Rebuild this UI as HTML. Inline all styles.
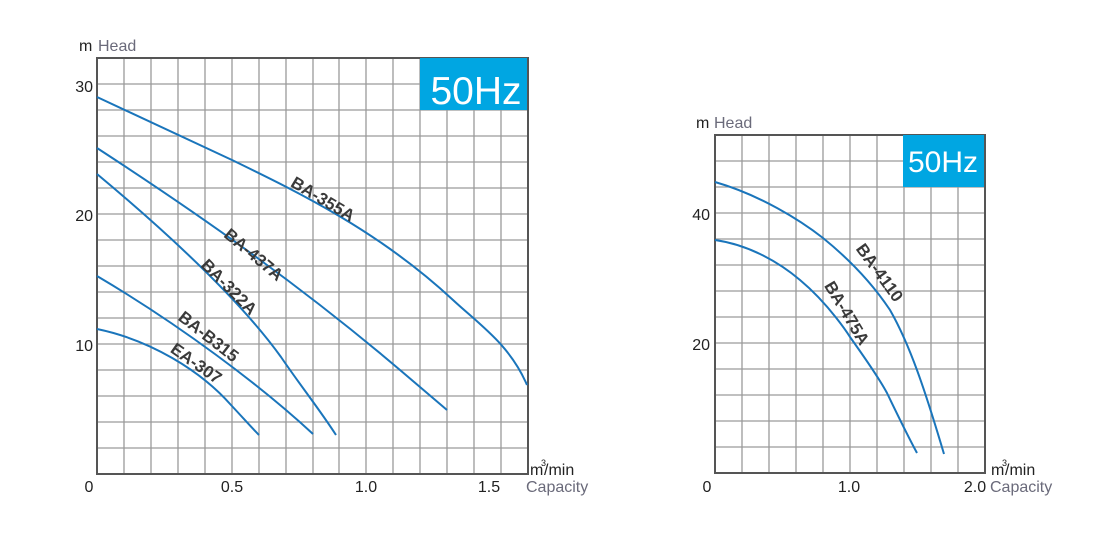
<!DOCTYPE html>
<html><head><meta charset="utf-8"><style>
html,body{margin:0;padding:0;background:#fff;}
svg{display:block;font-family:"Liberation Sans",sans-serif;}
</style></head><body>
<svg width="1096" height="541" viewBox="0 0 1096 541" xmlns="http://www.w3.org/2000/svg">
<g stroke="#9a9a9a" stroke-width="1.3" fill="none">
<path d="M124 58V474M151 58V474M178 58V474M205 58V474M232 58V474M259 58V474M286 58V474M313 58V474M339 58V474M366 58V474M393 58V474M420 58V474M447 58V474M474 58V474M501 58V474"/>
<path d="M97 84H528M97 110H528M97 136H528M97 162H528M97 188H528M97 214H528M97 240H528M97 266H528M97 292H528M97 318H528M97 344H528M97 370H528M97 396H528M97 422H528M97 448H528"/>
<path d="M742 135V473M769 135V473M796 135V473M823 135V473M850 135V473M877 135V473M904 135V473M931 135V473M958 135V473"/>
<path d="M715 161H985M715 187H985M715 213H985M715 239H985M715 265H985M715 291H985M715 317H985M715 343H985M715 369H985M715 395H985M715 421H985M715 447H985"/>
</g>
<rect x="97" y="58" width="431" height="416" fill="none" stroke="#555" stroke-width="2"/>
<rect x="715" y="135" width="270" height="338" fill="none" stroke="#555" stroke-width="2"/>
<rect x="420" y="58" width="107" height="52" fill="#00a6e2"/>
<text x="476" y="104" font-size="39" fill="#fff" text-anchor="middle">50Hz</text>
<rect x="903" y="135" width="81" height="52" fill="#00a6e2"/>
<text x="943" y="172" font-size="30" fill="#fff" text-anchor="middle">50Hz</text>
<g stroke="#1a75bb" stroke-width="2" fill="none">
<path d="M97 97 L232 160 C300 193 380 232 453 300 C480 325 510 345 527 385"/>
<path d="M97 148 C200 215 300 285 400 370 L447 410"/>
<path d="M97 174 C170 235 240 300 281 357 C300 385 320 410 336 435"/>
<path d="M97 276 C180 325 260 385 313 434"/>
<path d="M97 329 C150 340 200 370 231 405 C245 420 252 428 259 435"/>
<path d="M715 182 C760 195 800 220 823 238 C860 268 880 295 890 310 C910 345 925 390 944 454"/>
<path d="M715 240 C750 245 780 263 800 280 C830 305 850 337 850 337 C870 365 880 380 887 393 C900 420 910 440 917 453"/>
</g>
<g font-size="17" font-weight="bold" fill="#3a3a3a" text-anchor="middle">
<text transform="translate(320,204) rotate(31)">BA-355A</text>
<text transform="translate(250,259) rotate(40)">BA-437A</text>
<text transform="translate(225,291) rotate(45)">BA-322A</text>
<text transform="translate(205,341) rotate(38)">BA-B315</text>
<text transform="translate(193,368) rotate(35)">EA-307</text>
<text transform="translate(875,276) rotate(54)">BA-4110</text>
<text transform="translate(842,316) rotate(59)">BA-475A</text>
</g>
<g font-size="16" fill="#222">
<text x="93" y="92" text-anchor="end">30</text>
<text x="93" y="221" text-anchor="end">20</text>
<text x="93" y="351" text-anchor="end">10</text>
<text x="89" y="492" text-anchor="middle">0</text>
<text x="232" y="492" text-anchor="middle">0.5</text>
<text x="366" y="492" text-anchor="middle">1.0</text>
<text x="489" y="492" text-anchor="middle">1.5</text>
<text x="710" y="220" text-anchor="end">40</text>
<text x="710" y="350" text-anchor="end">20</text>
<text x="707" y="492" text-anchor="middle">0</text>
<text x="849" y="492" text-anchor="middle">1.0</text>
<text x="975" y="492" text-anchor="middle">2.0</text>
<text x="79" y="51">m</text>
<text x="696" y="128">m</text>
<text x="530" y="475">m</text><text x="544" y="475">/min</text>
<text x="991" y="475">m</text><text x="1005" y="475">/min</text>
</g>
<g font-size="9" fill="#222"><text x="541" y="466">3</text><text x="1002" y="466">3</text></g>
<g font-size="16" fill="#6a6a7a">
<text x="98" y="51">Head</text>
<text x="714" y="128">Head</text>
<text x="526" y="492">Capacity</text>
<text x="990" y="492">Capacity</text>
</g>
</svg>
</body></html>
